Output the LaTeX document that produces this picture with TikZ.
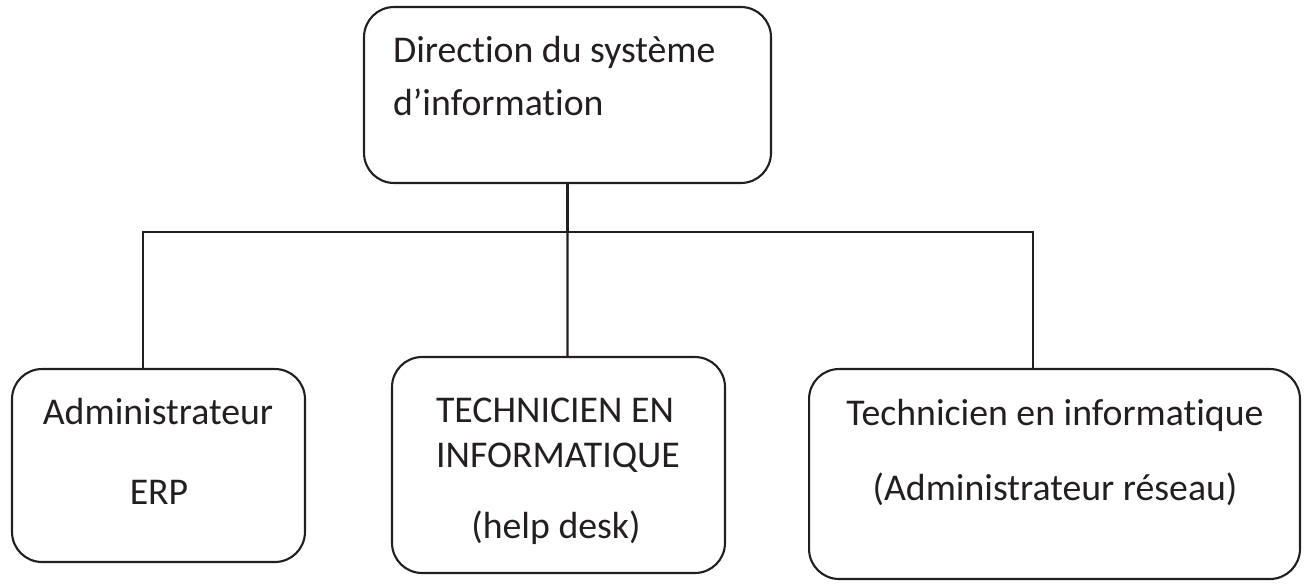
\documentclass[tikz,border=0pt]{standalone}
\usepackage{fontspec}
\setmainfont{Carlito}[Ligatures={NoCommon,NoRare,NoContextual}]
\usetikzlibrary{shapes,backgrounds}
\definecolor{ink}{HTML}{231F20}

\begin{document}
\begin{tikzpicture}[x=0.02cm,y=-0.02cm,line width=1.2pt,draw=ink,
                    box/.style={draw=ink,rectangle,rounded corners=0.6cm,inner sep=0pt},
                    txt/.style={inner sep=0pt,anchor=base,text=ink,
                                font=\fontsize{21.5}{26}\selectfont}]

  \useasboundingbox (0,0) rectangle (1308,583);

  \node[box,minimum width=8.14cm,minimum height=3.52cm] (dsi)  at (567.5,95)   {};
  \node[box,minimum width=5.86cm,minimum height=3.86cm] (adm)  at (158.5,465.5) {};
  \node[box,minimum width=6.66cm,minimum height=4.32cm] (tech) at (558.5,465)  {};
  \node[box,minimum width=9.82cm,minimum height=4.20cm] (res)  at (1054.5,474) {};

  \node[txt,anchor=base west] (dsi1) at (392,62)  {Direction du système};
  \node[txt,anchor=base west] (dsi2) at (392,115) {d’information};
  \node[txt] (adm1)  at (158,424)  {Administrateur};
  \node[txt] (adm2)  at (159,504)  {ERP};
  \node[txt] (tech1) at (555,422)  {TECHNICIEN EN};
  \node[txt] (tech2) at (558,467)  {INFORMATIQUE};
  \node[txt] (tech3) at (556,538)  {(help desk)};
  \node[txt] (res1)  at (1055,425) {Technicien en informatique};
  \node[txt] (res2)  at (1055,500) {(Administrateur réseau)};

  \coordinate (bus) at (567.5,232);

  \draw (dsi.south) -- (bus);
  \draw ([xshift=-0.31cm]adm.north) |- (bus) -| ([xshift=-0.43cm]res.north);
  \draw (bus) -- ([xshift=0.18cm]tech.north);
\end{tikzpicture}
\end{document}
